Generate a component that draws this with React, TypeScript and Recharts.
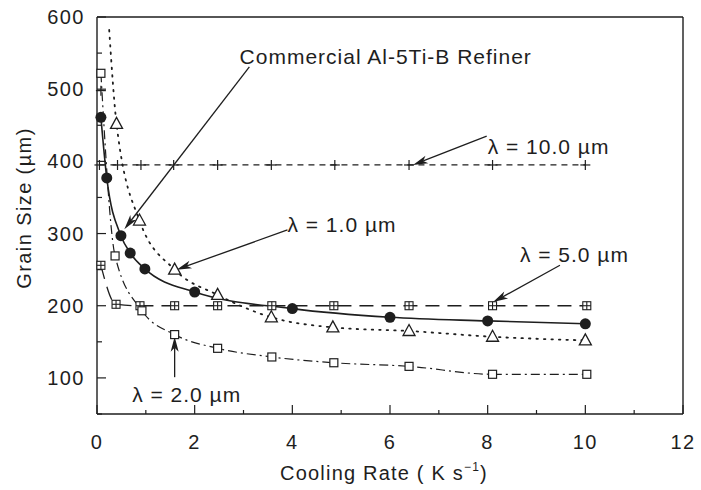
import { ComposedChart, Line, XAxis, YAxis, ReferenceLine, ReferenceDot, Label } from 'recharts'

// Grain size (µm) vs cooling rate (K/s)
const commercial = [
  { x: 0.08, y: 461 },
  { x: 0.2, y: 377 },
  { x: 0.49, y: 297 },
  { x: 0.68, y: 273 },
  { x: 0.98, y: 251 },
  { x: 2.0, y: 219 },
  { x: 4.0, y: 196 },
  { x: 6.0, y: 184 },
  { x: 8.0, y: 179 },
  { x: 10.0, y: 175 },
]

// lambda = 1.0 um, first point is the unmarked start of the curve near the top edge
const lambda1 = [
  { x: 0.25, y: 582, mark: false },
  { x: 0.4, y: 452 },
  { x: 0.87, y: 318 },
  { x: 1.59, y: 250 },
  { x: 2.47, y: 215 },
  { x: 3.57, y: 184 },
  { x: 4.83, y: 170 },
  { x: 6.39, y: 165 },
  { x: 8.1, y: 157 },
  { x: 10.0, y: 152 },
]

const lambda2 = [
  { x: 0.08, y: 522 },
  { x: 0.37, y: 269 },
  { x: 0.92, y: 193 },
  { x: 1.59, y: 160 },
  { x: 2.47, y: 141 },
  { x: 3.58, y: 129 },
  { x: 4.85, y: 121 },
  { x: 6.39, y: 116 },
  { x: 8.1, y: 105 },
  { x: 10.03, y: 105 },
]

const lambda5 = [
  { x: 0.08, y: 256 },
  { x: 0.39, y: 202 },
  { x: 0.88, y: 200 },
  { x: 1.59, y: 200 },
  { x: 2.47, y: 200 },
  { x: 3.58, y: 200 },
  { x: 4.85, y: 200 },
  { x: 6.39, y: 200 },
  { x: 8.1, y: 200 },
  { x: 10.03, y: 200 },
]

const lambda10 = [
  { x: 0.05, y: 395 },
  { x: 0.42, y: 395 },
  { x: 0.9, y: 395 },
  { x: 1.57, y: 395 },
  { x: 2.47, y: 395 },
  { x: 3.57, y: 395 },
  { x: 4.87, y: 395 },
  { x: 6.39, y: 395 },
  { x: 8.1, y: 395 },
  { x: 10.0, y: 395 },
]
const lambda10Stray = [{ x: 0.08, y: 498 }]

const xTicks = [0, 1, 2, 3, 4, 5, 6, 7, 8, 9, 10, 11, 12]
const yTicks = [50, 100, 150, 200, 250, 300, 350, 400, 450, 500, 550, 600]

// text label anchors and arrows, in data units
const labels = [
  { text: 'Commercial Al-5Ti-B Refiner', x: 2.92, y: 545 },
  { text: 'λ = 10.0 µm', x: 8.0, y: 420 },
  { text: 'λ = 1.0 µm', x: 3.9, y: 312 },
  { text: 'λ = 5.0 µm', x: 8.66, y: 270 },
  { text: 'λ = 2.0 µm', x: 0.72, y: 76 },
]
const arrows = [
  { from: { x: 3.12, y: 531 }, to: { x: 0.56, y: 306 } },
  { from: { x: 7.98, y: 435 }, to: { x: 6.47, y: 395 } },
  { from: { x: 3.9, y: 305 }, to: { x: 1.63, y: 250 } },
  { from: { x: 9.48, y: 256 }, to: { x: 8.11, y: 205 } },
  { from: { x: 1.59, y: 101 }, to: { x: 1.59, y: 157 } },
]

const INK = '#1e1e1e'
const FONT = '"Liberation Sans", Arial, Helvetica, sans-serif'

const FilledCircle = ({ cx, cy }: any) => <circle cx={cx} cy={cy} r={5.5} fill={INK} />

const OpenTriangle = ({ cx, cy }: any) => (
  <polygon
    points={`${cx},${cy - 6.5} ${cx - 6},${cy + 4.5} ${cx + 6},${cy + 4.5}`}
    fill="#fff"
    stroke={INK}
    strokeWidth={1.3}
  />
)

const OpenSquare = ({ cx, cy }: any) => (
  <rect x={cx - 4} y={cy - 4} width={8} height={8} fill="#fff" stroke={INK} strokeWidth={1.2} />
)

const CrossSquare = ({ cx, cy }: any) => (
  <g stroke={INK} strokeWidth={1.1}>
    <rect x={cx - 4} y={cy - 4} width={8} height={8} fill="#fff" />
    <line x1={cx - 4} x2={cx + 4} y1={cy} y2={cy} />
    <line x1={cx} x2={cx} y1={cy - 4} y2={cy + 4} />
  </g>
)

const Plus = ({ cx, cy }: any) => (
  <g stroke={INK} strokeWidth={1.2}>
    <line x1={cx - 5} x2={cx + 5} y1={cy} y2={cy} />
    <line x1={cx} x2={cx} y1={cy - 5} y2={cy + 5} />
  </g>
)

const marker = (Shape: any) => (p: any) =>
  p.payload && p.payload.mark === false ? <g key={p.index} /> : <Shape key={p.index} cx={p.cx} cy={p.cy} />

const XTick = ({ x, y, payload }: any) => {
  const major = payload.value % 2 === 0
  return (
    <g>
      <line x1={x} x2={x} y1={y} y2={y - (major ? 9 : 4)} stroke={INK} strokeWidth={1.2} />
      {major && (
        <text x={x} y={y + 35} textAnchor="middle" fontSize={20} letterSpacing={1.5} fill={INK} fontFamily={FONT}>
          {payload.value}
        </text>
      )}
    </g>
  )
}

const YTick = ({ x, y, payload }: any) => {
  const major = payload.value % 100 === 0
  return (
    <g>
      <line x1={x} x2={x + (major ? 9 : 5)} y1={y} y2={y} stroke={INK} strokeWidth={1.2} />
      {major && (
        <text x={x - 12} y={y + 7} textAnchor="end" fontSize={20} letterSpacing={1.5} fill={INK} fontFamily={FONT}>
          {payload.value}
        </text>
      )}
    </g>
  )
}

const RightTick = ({ x, y, payload }: any) => {
  const major = payload.value % 100 === 0
  return <line x1={x} x2={x - (major ? 9 : 7)} y1={y} y2={y} stroke={INK} strokeWidth={1.2} />
}

const Arrow = ({ x1, y1, x2, y2 }: any) => {
  const dx = x2 - x1
  const dy = y2 - y1
  const len = Math.sqrt(dx * dx + dy * dy) || 1
  const ux = dx / len
  const uy = dy / len
  const hl = 15
  const hw = 4
  const bx = x2 - ux * hl
  const by = y2 - uy * hl
  return (
    <g>
      <line x1={x1} y1={y1} x2={bx + ux * 4} y2={by + uy * 4} stroke={INK} strokeWidth={1.3} />
      <polygon
        points={`${x2},${y2} ${bx - uy * hw},${by + ux * hw} ${bx + ux * 4},${by + uy * 4} ${bx + uy * hw},${by - ux * hw}`}
        fill={INK}
      />
    </g>
  )
}

const XTitle = ({ viewBox }: any) => {
  const cx = viewBox.x + viewBox.width / 2 - 6
  return (
    <text x={cx} y={viewBox.y + 66} textAnchor="middle" fontSize={20} letterSpacing={1.2} fill={INK} fontFamily={FONT}>
      Cooling Rate ( K s
      <tspan dy={-9} fontSize={12}>−1</tspan>
      <tspan dy={9}>)</tspan>
    </text>
  )
}

const YTitle = () => (
  <text
    x={31}
    y={208}
    transform="rotate(-90 31 208)"
    textAnchor="middle"
    fontSize={20}
    letterSpacing={1.4}
    fill={INK}
    fontFamily={FONT}
  >
    Grain Size (µm)
  </text>
)

export default function App() {
  return (
    <div style={{ position: 'absolute', left: 0, top: 0, width: 701, height: 490, background: '#fff' }}>
      <ComposedChart width={701} height={490} margin={{ top: 17, right: 0, left: 0, bottom: 0 }}>
        <XAxis
          type="number"
          dataKey="x"
          domain={[0, 12]}
          ticks={xTicks}
          height={76}
          interval={0}
          tickSize={0}
          tickMargin={0}
          tickLine={false}
          tick={<XTick />}
          axisLine={{ stroke: INK, strokeWidth: 1.4 }}
        >
          <Label content={<XTitle />} />
        </XAxis>
        <YAxis
          type="number"
          dataKey="y"
          domain={[50, 600]}
          ticks={yTicks}
          width={97}
          interval={0}
          tickSize={0}
          tickMargin={0}
          tickLine={false}
          tick={<YTick />}
          axisLine={{ stroke: INK, strokeWidth: 1.4 }}
        >
          <Label content={<YTitle />} />
        </YAxis>
        <YAxis
          yAxisId="r"
          orientation="right"
          type="number"
          domain={[50, 600]}
          ticks={yTicks}
          width={18}
          interval={0}
          tickSize={0}
          tickMargin={0}
          tickLine={false}
          tick={<RightTick />}
          axisLine={{ stroke: INK, strokeWidth: 1.4 }}
        />
        <ReferenceLine y={600} stroke={INK} strokeWidth={1.4} />

        <Line
          data={lambda10}
          dataKey="y"
          type="linear"
          stroke={INK}
          strokeWidth={1.2}
          strokeDasharray="6 5"
          dot={marker(Plus)}
          isAnimationActive={false}
        />
        <Line
          data={lambda5}
          dataKey="y"
          type="monotone"
          stroke={INK}
          strokeWidth={1.3}
          strokeDasharray="14 8"
          dot={marker(CrossSquare)}
          isAnimationActive={false}
        />
        <Line
          data={lambda2}
          dataKey="y"
          type="monotone"
          stroke={INK}
          strokeWidth={1.2}
          strokeDasharray="9 4 2 4"
          dot={marker(OpenSquare)}
          isAnimationActive={false}
        />
        <Line
          data={lambda1}
          dataKey="y"
          type="monotone"
          stroke={INK}
          strokeWidth={1.8}
          strokeDasharray="1.5 6"
          strokeLinecap="round"
          dot={marker(OpenTriangle)}
          isAnimationActive={false}
        />
        <Line
          data={commercial}
          dataKey="y"
          type="monotone"
          stroke={INK}
          strokeWidth={1.6}
          dot={marker(FilledCircle)}
          isAnimationActive={false}
        />

        {lambda10Stray.map((p, i) => (
          <ReferenceDot key={`stray-${i}`} x={p.x} y={p.y} ifOverflow="visible" shape={(s: any) => <Plus cx={s.cx} cy={s.cy} />} />
        ))}

        {arrows.map((a, i) => (
          <ReferenceLine
            key={`arrow-${i}`}
            segment={[a.from, a.to]}
            ifOverflow="visible"
            shape={(s: any) => <Arrow {...s} />}
          />
        ))}

        {labels.map((l, i) => (
          <ReferenceDot
            key={`label-${i}`}
            x={l.x}
            y={l.y}
            ifOverflow="visible"
            shape={(s: any) => (
              <text x={s.cx} y={s.cy + 7} fontSize={21} letterSpacing={1} fill={INK} fontFamily={FONT}>
                {l.text}
              </text>
            )}
          />
        ))}
      </ComposedChart>
    </div>
  )
}
